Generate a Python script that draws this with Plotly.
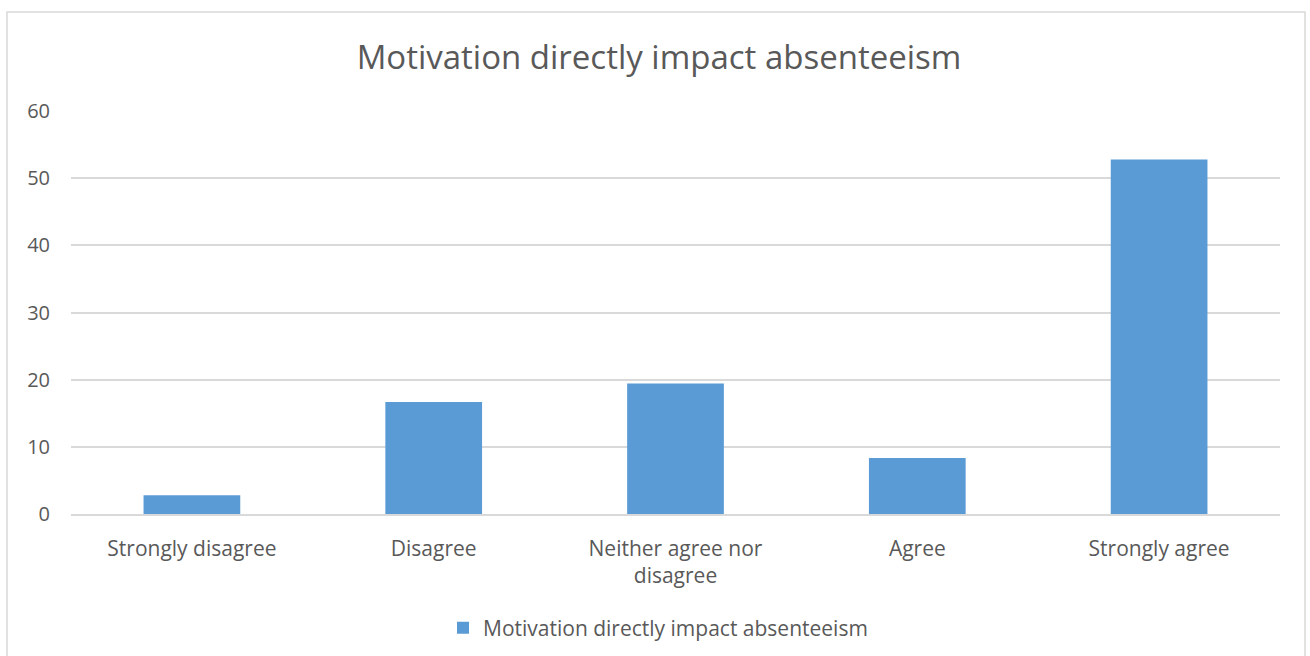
import plotly.graph_objects as go

categories = ["Strongly disagree", "Disagree", "Neither agree nor<br>disagree", "Agree", "Strongly agree"]
values = [2.78, 16.67, 19.44, 8.33, 52.78]
series_name = "Motivation directly impact absenteeism"
tick_vals = [0, 10, 20, 30, 40, 50, 60]

W, H = 1310, 656
L, R, T, B = 71, 30, 111, 142
pw = W - L - R
ph = H - T - B

def px_x(p):
    return (p - L) / pw

def px_y(p):
    return (H - B - p) / ph

text_color = "#595959"
font_family = "Open Sans, DejaVu Sans, sans-serif"

fig = go.Figure()
fig.add_trace(go.Bar(
    x=categories, y=values, name=series_name,
    marker=dict(color="#5B9BD5", line=dict(width=0)),
    width=0.4,
))

fig.update_layout(
    width=W, height=H,
    margin=dict(l=L, r=R, t=T, b=B, autoexpand=False),
    paper_bgcolor="white", plot_bgcolor="white",
    title=dict(text="Motivation directly impact absenteeism", x=px_x(659), xanchor="center",
               xref="paper",
               y=1 - 57 / H, yanchor="middle",
               font=dict(size=33, color=text_color, family=font_family)),
    font=dict(family=font_family, color=text_color),
    showlegend=True,
    legend=dict(orientation="h", x=px_x(443), xanchor="left",
                yref="container", y=1 - 628 / H, yanchor="middle",
                font=dict(size=21, color=text_color, family=font_family)),
    xaxis=dict(showgrid=False, showline=True, linecolor="#d9d9d9", linewidth=1.5,
               tickfont=dict(size=21, color=text_color), ticks="", ticklabelstandoff=15,
               automargin=False),
    yaxis=dict(range=[0, 60], tickvals=tick_vals, showgrid=True, gridcolor="#d9d9d9",
               gridwidth=1.5, zeroline=False, showline=False,
               tickfont=dict(size=20, color=text_color), ticks="", ticklabelstandoff=20,
               automargin=False),
    bargap=0.6,
)

fig.add_shape(type="rect", xref="paper", yref="paper",
              x0=px_x(7), x1=px_x(1305), y0=px_y(670), y1=px_y(12),
              line=dict(color="#d9d9d9", width=1.5), fillcolor="rgba(0,0,0,0)", layer="below")

fig.write_html(
    "out.html",
    config={"displayModeBar": False},
    post_script="document.body.style.margin='0';document.documentElement.style.overflow='hidden';document.body.style.overflow='hidden';",
)
